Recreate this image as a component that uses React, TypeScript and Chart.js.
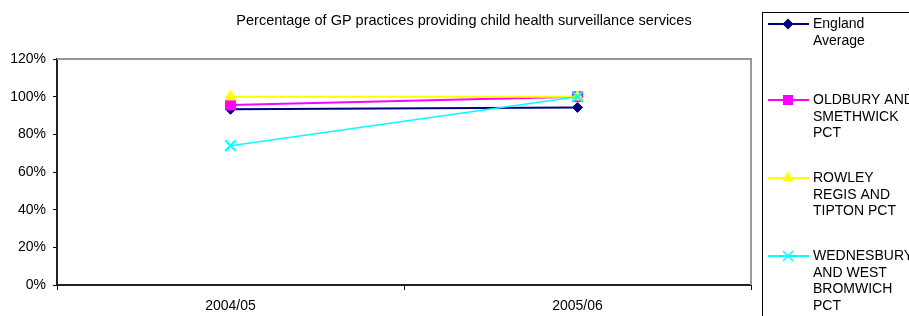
import React, { useEffect, useRef } from "react";
import { Chart, registerables } from "chart.js";

Chart.register(...registerables);

const categories = ["2004/05", "2005/06"];
const englandAverage = [93.3, 94.3];
const oldburySmethwick = [95.6, 100];
const rowleyRegisTipton = [100, 100];
const wednesburyWestBromwich = [74, 100];
const yMin = 0;
const yMax = 120;
const yStep = 20;
const chartTitle = "Percentage of GP practices providing child health surveillance services";
const seriesNames = [
  ["England", "Average"],
  ["OLDBURY AND", "SMETHWICK", "PCT"],
  ["ROWLEY", "REGIS AND", "TIPTON PCT"],
  ["WEDNESBURY", "AND WEST", "BROMWICH", "PCT"],
];
const seriesColors = ["#000080", "#FF00FF", "#FFFF00", "#00FFFF"];
const seriesMarkers = ["rectRot", "rect", "triangle", "crossRot"];

const FONT = "Arial, 'Liberation Sans', sans-serif";

function drawMarker(ctx: CanvasRenderingContext2D, style: string, x: number, y: number, color: string) {
  ctx.save();
  ctx.fillStyle = color;
  ctx.strokeStyle = color;
  ctx.lineWidth = 1;
  ctx.beginPath();
  if (style === "rectRot") {
    const r = 5.5;
    ctx.moveTo(x - r, y);
    ctx.lineTo(x, y - r);
    ctx.lineTo(x + r, y);
    ctx.lineTo(x, y + r);
    ctx.closePath();
    ctx.fill();
  } else if (style === "rect") {
    const s = 5;
    ctx.rect(x - s, y - s, 2 * s, 2 * s);
    ctx.fill();
  } else if (style === "triangle") {
    const r = 6.5;
    ctx.moveTo(x, y - r);
    ctx.lineTo(x + r * 0.866, y + r * 0.5);
    ctx.lineTo(x - r * 0.866, y + r * 0.5);
    ctx.closePath();
    ctx.fill();
  } else {
    const h = 5;
    ctx.lineWidth = 1.5;
    ctx.moveTo(x - h, y - h);
    ctx.lineTo(x + h, y + h);
    ctx.moveTo(x + h, y - h);
    ctx.lineTo(x - h, y + h);
    ctx.stroke();
  }
  ctx.restore();
}

const decorPlugin = {
  id: "decor",
  beforeDatasetsDraw(chart: any) {
    const { ctx, chartArea } = chart;
    ctx.save();
    ctx.strokeStyle = "#999999";
    ctx.lineWidth = 2;
    ctx.beginPath();
    ctx.moveTo(chartArea.left, chartArea.top);
    ctx.lineTo(chartArea.right, chartArea.top);
    ctx.lineTo(chartArea.right, chartArea.bottom);
    ctx.stroke();
    ctx.restore();
  },
  afterDraw(chart: any) {
    const { ctx } = chart;
    ctx.save();
    // title
    ctx.fillStyle = "#000";
    ctx.font = `14.5px ${FONT}`;
    ctx.textAlign = "center";
    ctx.textBaseline = "middle";
    ctx.fillText(chartTitle, 464, 21);
    // legend box
    ctx.strokeStyle = "#000";
    ctx.lineWidth = 1;
    ctx.strokeRect(762.5, 12.5, 200, 400);
    ctx.font = `14px ${FONT}`;
    ctx.textAlign = "left";
    const starts = [24, 100, 178, 256];
    seriesNames.forEach((lines, i) => {
      const y0 = starts[i];
      ctx.strokeStyle = seriesColors[i];
      ctx.lineWidth = 2;
      ctx.beginPath();
      ctx.moveTo(768, y0);
      ctx.lineTo(809, y0);
      ctx.stroke();
      drawMarker(ctx, seriesMarkers[i], 788, y0, seriesColors[i]);
      ctx.fillStyle = "#000";
      lines.forEach((t, j) => {
        ctx.fillText(t, 813, y0 + j * 16.8);
      });
    });
    ctx.restore();
  },
};

export default function App() {
  const canvasRef = useRef<HTMLCanvasElement | null>(null);

  useEffect(() => {
    if (!canvasRef.current) return;
    const seriesData = [englandAverage, oldburySmethwick, rowleyRegisTipton, wednesburyWestBromwich];
    const radii = [5, 7, 6.5, 7.5];
    const chart = new Chart(canvasRef.current, {
      type: "line",
      data: {
        labels: categories,
        datasets: seriesData.map((d, i) => ({
          label: seriesNames[i].join(" "),
          data: d,
          borderColor: seriesColors[i],
          backgroundColor: seriesColors[i],
          borderWidth: i === 3 ? 1.5 : 2,
          pointStyle: seriesMarkers[i] as any,
          pointRadius: radii[i],
          pointBorderWidth: i === 3 ? 2 : 1,
          pointBackgroundColor: seriesColors[i],
          pointBorderColor: seriesColors[i],
          tension: 0,
          order: 3 - i,
        })),
      },
      options: {
        responsive: false,
        animation: false,
        layout: { padding: { top: 59, right: 158, left: 0, bottom: 0 } },
        plugins: {
          legend: { display: false },
          title: { display: false },
          tooltip: { enabled: false },
        },
        scales: {
          x: {
            type: "category",
            offset: true,
            grid: {
              display: true,
              drawOnChartArea: false,
              drawTicks: true,
              tickLength: 5,
              color: "#000",
              offset: true,
            },
            border: { display: true, color: "#222", width: 2 },
            ticks: { font: { family: FONT, size: 14 }, color: "#000", padding: 8, maxRotation: 0 },
            afterFit: (scale: any) => {
              scale.height = 31;
            },
          },
          y: {
            min: yMin,
            max: yMax,
            grid: {
              display: true,
              drawOnChartArea: false,
              drawTicks: true,
              tickLength: 4,
              color: "#000",
            },
            border: { display: true, color: "#222", width: 2 },
            ticks: {
              stepSize: yStep,
              font: { family: FONT, size: 14 },
              color: "#000",
              padding: 7,
              callback: (v: any) => `${v}%`,
            },
            afterFit: (scale: any) => {
              scale.width = 57;
            },
          },
        },
      },
      plugins: [decorPlugin],
    });
    return () => chart.destroy();
  }, []);

  return (
    <div style={{ position: "absolute", left: 0, top: 0, width: 909, height: 316, background: "#fff" }}>
      <canvas ref={canvasRef} width={909} height={316} style={{ display: "block" }} />
    </div>
  );
}
